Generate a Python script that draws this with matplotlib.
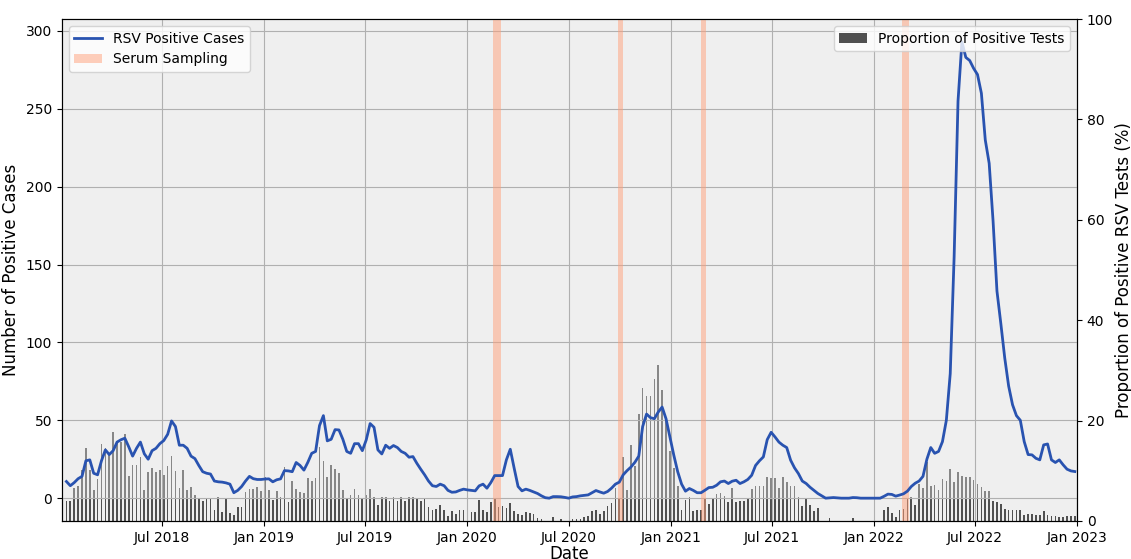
import matplotlib
matplotlib.use("Agg")
import matplotlib.pyplot as plt
import matplotlib.dates as mdates
from matplotlib.lines import Line2D
from matplotlib.patches import Patch
import pandas as pd

# weekly series, first week starting 2018-01-10
start_date = "2018-01-10"

cases = [
    10.7, 8, 10, 12.5, 14, 24, 24.6, 16, 15, 24, 31, 28, 30.5, 36, 37.5, 38.5, 33, 27, 32, 36,
    28.5, 25, 30.5, 32, 35, 37, 41, 49.6, 46, 34, 34, 32, 27, 25.4, 21, 17, 16, 15.5, 11, 10.5,
    10.3, 9.8, 9, 3.5, 5, 7.5, 11, 14, 12.5, 12, 12, 12.3, 12.4, 10.5, 11.8, 12.4, 17.7, 17.5, 17, 22.9,
    21, 18, 23, 28.8, 30, 46.6, 53, 36.8, 37.8, 44, 43.8, 37.8, 30, 28.8, 35,
    35, 30.5, 37.4, 47.9, 45.5, 31, 28.4, 34, 32, 33.8, 32.5, 30, 28.8, 26.3, 26.7, 22.4, 18.6, 15, 11, 8,
    7.5, 9, 8, 5, 3.8, 4, 5, 5.8, 5.3, 5, 4.7, 7.9, 9, 6.4, 10, 14.5, 14.5, 14.5, 24.6, 31.4,
    19.2, 7.5, 4.7, 5.8, 5, 4, 3, 1.5, 0.3, 0, 1, 1, 0.9, 0.5, 0, 0.8, 1, 1.5, 1.8, 2.1,
    3.5, 4.9, 4, 3.2, 4.3, 6.4, 9, 10.3, 15, 17.7, 20, 23, 27, 46, 54,
    51.7, 51, 55.3, 58.5, 51, 39.3, 27.6, 17, 9, 4.5, 6.2, 5, 3.5, 3.5, 5.1, 6.8, 7, 8.3, 10.5, 11,
    9.4, 10.9, 11.5, 9.4, 10.5, 12, 14.7, 21, 24, 26.5, 37.6, 42.3, 39.3, 36, 34, 32.5, 24.4, 19.5, 15.8, 11,
    9.4, 7, 5, 3, 1.5, 0, 0.2, 0.4, 0.2, 0, 0, 0, 0.4, 0.3, 0, 0, 0, 0, 0, 0,
    1.2, 2.6, 2.4, 1.3,
    2, 2.8, 4.5, 7.5, 9.6, 11, 14, 25, 32.5, 28.8, 30, 36.3, 50, 80, 155, 255, 293, 283, 281, 276,
    272, 260, 230, 215, 178, 133, 112, 90, 72, 60, 53, 50, 36.3, 28, 27.8, 25.6, 24.6, 34.2, 34.8, 24.6,
    22.9, 24.6, 21.4, 18.6, 17.5, 17.1,
]

proportion = [
    4, 4, 6.5, 7, 10.2, 14.5, 10.2, 6.2, 8.4, 15.3, 14.5, 13.5, 17.7, 16, 15.7, 17.3, 9, 11.1, 11.1, 12.7,
    6.2, 9.7, 10.5, 9.7, 10.2, 9.2, 11, 13, 10, 6.5, 10.2, 6.2, 6.8, 5.2, 4.5, 4, 4.4, 4.4, 2.2, 4.7,
    1.7, 4.4, 1.5, 1.2, 2.8, 2.8, 5.8, 6.4, 6.4, 6.7, 6, 8.7, 6.2, 4.2, 6, 4.8, 10.7, 3.8, 8, 6.4,
    5.8, 5.5, 8.6, 8, 8.6, 14.7, 12, 8.8, 11.2, 10.3, 9.5, 6.2, 4.5, 5.2, 6.4,
    5.2, 4.5, 5.2, 6.3, 4.8, 3.2, 4.8, 4.8, 4, 4.8, 3.9, 4.8, 4, 4.8, 4.7, 4.5, 3.9, 4.4, 2.7, 2.2,
    2.4, 3.2, 2.2, 0.9, 2, 1.4, 2.2, 2.2, 2.2, 1.7, 1.7, 4.2, 2.2, 1.7, 3.7, 4.4, 2.7, 3, 2.5, 3.5,
    2, 1.3, 1.2, 1.7, 1.5, 1.3, 0.5, 0.4, 0, 0, 0.7, 0, 0.3, 0, 0, 0.3, 0.3, 0.3, 0.7, 0.9,
    2, 2.2, 1.3, 1.9, 2.9, 3.5, 6.6, 4.6, 12.8, 6.2, 15.1, 11, 21.4, 26.4, 24.9,
    24.9, 28.2, 31.1, 26.1, 20.1, 14, 10.6, 7, 2.2, 4.2, 4.7, 1.9, 2.1, 2.2, 4.5, 3.4, 4.5, 5.4, 5.6, 5,
    3.7, 6.5, 3.7, 4, 4, 4.3, 6.4, 7, 7, 7, 8.8, 8.5, 8.5, 6.6, 8.7, 7.8, 7, 7, 4.8, 2.9,
    4.3, 3.2, 1.9, 2.5, 0, 0, 0.5, 0, 0, 0, 0, 0, 0.5, 0, 0, 0, 0, 0, 0, 0,
    2.2, 2.7, 1.5, 0.7,
    2.1, 2.4, 4.4, 4.7, 3.2, 7.4, 6.5, 11.8, 7, 7.2, 6.2, 8.4, 8, 10.3, 7.7, 9.7, 9, 8.7, 8.7, 8.2,
    7.4, 6.8, 6, 6, 4, 3.7, 3.3, 2.4, 2.2, 2.1, 2.2, 2.2, 1.2, 1.4, 1.4, 1.2, 1.2, 2, 1.2, 1,
    1, 0.7, 0.7, 0.9, 0.9, 0.9,
]

serum_start = ["2020-02-16", "2020-09-28", "2021-02-23", "2022-02-20"]
serum_end = ["2020-03-01", "2020-10-07", "2021-03-04", "2022-03-05"]

dates = pd.date_range(start_date, periods=len(cases), freq="7D")

bg = "#efefef"
line_color = "#2953b0"
bar_color = "#505050"
span_color = "lightsalmon"

fig, ax1 = plt.subplots(figsize=(11.31, 5.59), dpi=100)
fig.subplots_adjust(left=0.0548, right=0.9523, bottom=0.068, top=0.966)
ax2 = ax1.twinx()

# bars sit underneath, line axis on top
ax2.set_zorder(0)
ax1.set_zorder(1)
ax1.patch.set_visible(False)
ax2.patch.set_visible(True)
ax2.set_facecolor(bg)

bars = ax2.bar(dates, proportion, width=3, color=bar_color)
ax2.set_ylim(0, 100)
ax2.set_ylabel("Proportion of Positive RSV Tests (%)", fontsize=12, labelpad=1)
ax2.tick_params(labelsize=10)

ax1.plot(dates, cases, color=line_color, lw=2, zorder=3)
top = max(cases)
ax1.set_ylim(-0.05 * top, 1.05 * top)
ax1.axhspan(0, 2 * top, color=bg, alpha=0.35, lw=0, zorder=0.3)
ax1.set_ylim(-0.05 * top, 1.05 * top)

for s, e in zip(serum_start, serum_end):
    ax1.axvspan(pd.Timestamp(s), pd.Timestamp(e), color=span_color, alpha=0.5, lw=0, zorder=1)

ax1.set_xlim(pd.Timestamp("2018-01-02"), pd.Timestamp("2023-01-01"))
ax1.xaxis.set_major_locator(mdates.MonthLocator(bymonth=[1, 7]))
ax1.xaxis.set_major_formatter(mdates.DateFormatter("%b %Y"))
ax1.set_axisbelow(True)
ax1.grid(True, color="#b0b0b0", lw=0.8)
ax1.tick_params(labelsize=10)
ax1.set_xlabel("Date", fontsize=12, labelpad=0)
ax1.set_ylabel("Number of Positive Cases", fontsize=12)

h_line = Line2D([0], [0], color=line_color, lw=2)
h_span = Patch(facecolor=span_color, alpha=0.5)
leg1 = ax1.legend([h_line, h_span], ["RSV Positive Cases", "Serum Sampling"],
                  loc="upper left", fontsize=10)
ax1.add_artist(leg1)
ax1.legend([bars], ["Proportion of Positive Tests"], loc="upper right", fontsize=10)

plt.savefig("out.png", dpi=100)
